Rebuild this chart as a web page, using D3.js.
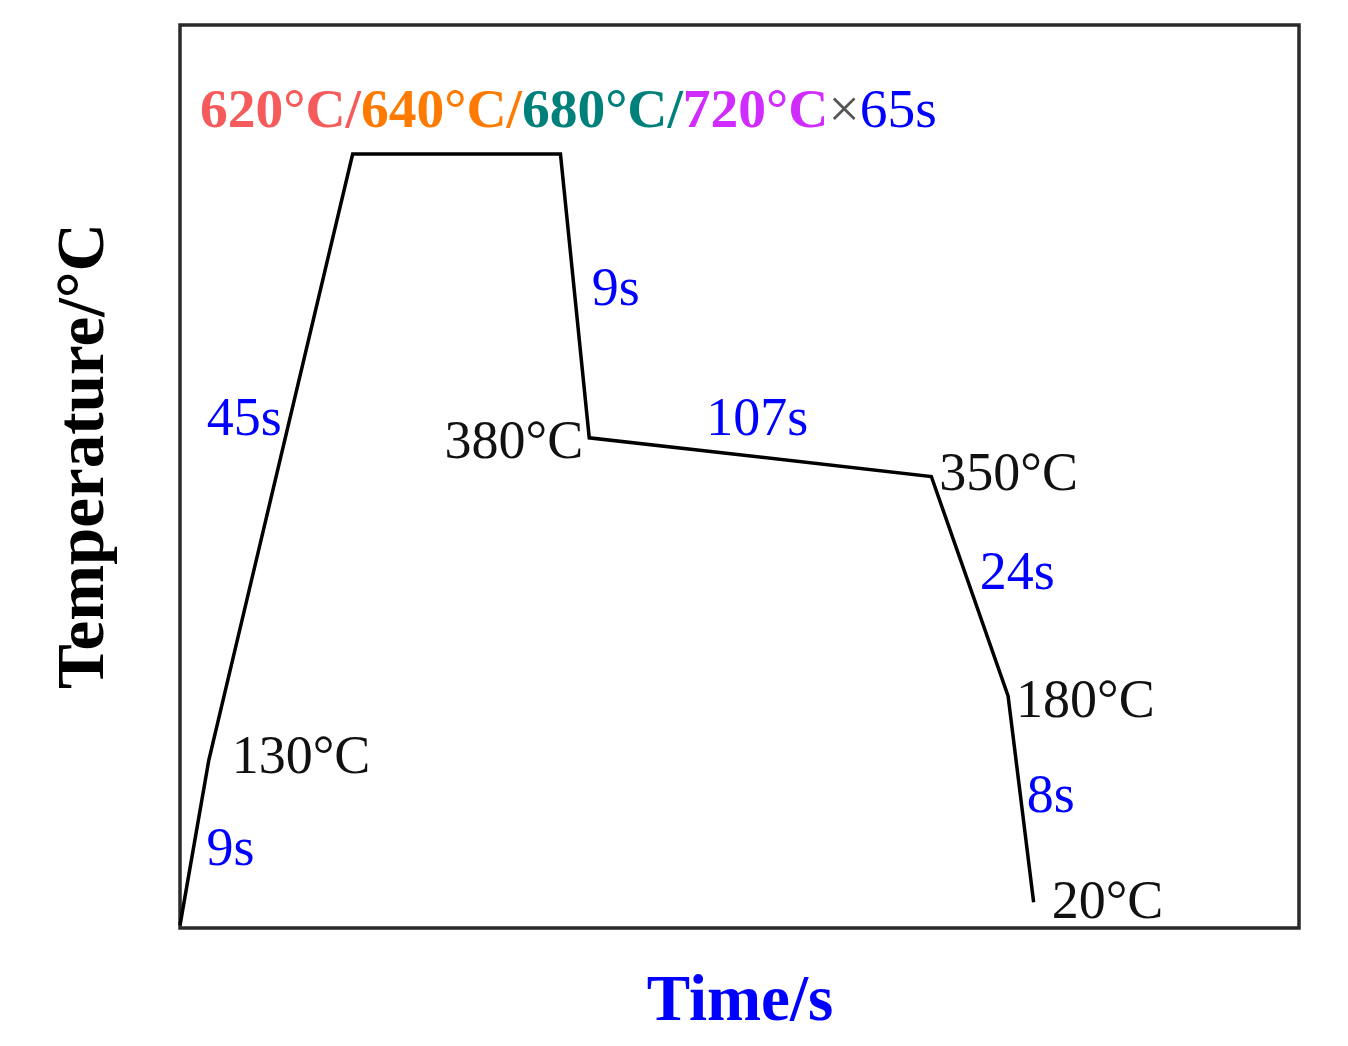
<!DOCTYPE html>
<html><head><meta charset="utf-8">
<script src="https://cdn.jsdelivr.net/npm/d3@7"></script>
<style>body{margin:0;background:#fff}svg{display:block}text{font-family:"Liberation Serif","Times New Roman",serif}</style>
</head><body>
<script>
// Data
const durations = [0, 9, 45, 65, 9, 107, 24, 8];          // seconds per segment
const temps = [2, 130, 600, 600, 380, 350, 180, 20];     // °C at each point
const tempLabels = [null, "130°C", null, null, "380°C", "350°C", "180°C", "20°C"];
const durLabels = [null, "9s", "45s", null, "9s", "107s", "24s", "8s"];
const titleParts = ["620°C/", "640°C/", "680°C/", "720°C", "×", "65s"];
const titleColors = ["#f55b5b", "#ff7a00", "#00807a", "#d02cff", "#555", "#0000ff"];

const W = 1348, H = 1046;
const svg = d3.select("body").append("svg").attr("width", W).attr("height", H);
const x = d3.scaleLinear().domain([0, 350]).range([180, 1299]);
const y = d3.scaleLinear().domain([0, 700]).range([928, 25]);

let t = 0;
const pts = durations.map((d, i) => { t += d; return {t, T: temps[i], i}; });

svg.append("rect").attr("x", x(0)).attr("y", y(700)).attr("width", x(350) - x(0)).attr("height", y(0) - y(700))
  .attr("fill", "none").attr("stroke", "#2a2a2a").attr("stroke-width", 3.5);

svg.append("path").datum(pts)
  .attr("d", d3.line().x(d => x(d.t)).y(d => y(d.T)))
  .attr("fill", "none").attr("stroke", "#000").attr("stroke-width", 3.5).attr("stroke-linejoin", "miter");

// temperature labels
const tOff = {1: [23, 13, "start"], 4: [-6, 20, "end"], 5: [8, 13, "start"], 6: [8, 21, "start"], 7: [18, 16, "start"]};
pts.forEach(p => {
  if (!tempLabels[p.i]) return;
  const o = tOff[p.i];
  svg.append("text").attr("x", x(p.t) + o[0]).attr("y", y(p.T) + o[1]).attr("text-anchor", o[2])
    .attr("font-size", 54).attr("fill", "#111").text(tempLabels[p.i]);
});

// duration labels at segment midpoints
const dOff = {1: [12, 22, "start"], 2: [1, -22, "end"], 4: [17, 9, "start"], 5: [-3, -22, "middle"], 6: [10, 3, "start"], 7: [6, 13, "start"]};
pts.forEach(p => {
  if (!durLabels[p.i]) return;
  const a = pts[p.i - 1];
  const mx = (x(a.t) + x(p.t)) / 2, my = (y(a.T) + y(p.T)) / 2;
  const o = dOff[p.i];
  svg.append("text").attr("x", mx + o[0]).attr("y", my + o[1]).attr("text-anchor", o[2])
    .attr("font-size", 54).attr("fill", "#0000ff").text(durLabels[p.i]);
});

// title
const title = svg.append("text").attr("x", 200).attr("y", 127).attr("font-size", 55.5);
titleParts.forEach((s, i) => {
  title.append("tspan").attr("fill", titleColors[i])
    .attr("font-weight", (i >= 4) ? "normal" : "bold").text(s);
});

// axis titles
svg.append("text").attr("x", 740).attr("y", 1020).attr("text-anchor", "middle")
  .attr("font-size", 65).attr("font-weight", "bold").attr("fill", "#0000ff").text("Time/s");
svg.append("text").attr("transform", "translate(103,456) rotate(-90)").attr("text-anchor", "middle")
  .attr("font-size", 67).attr("font-weight", "bold").attr("fill", "#000").text("Temperature/°C");
</script>
</body></html>
